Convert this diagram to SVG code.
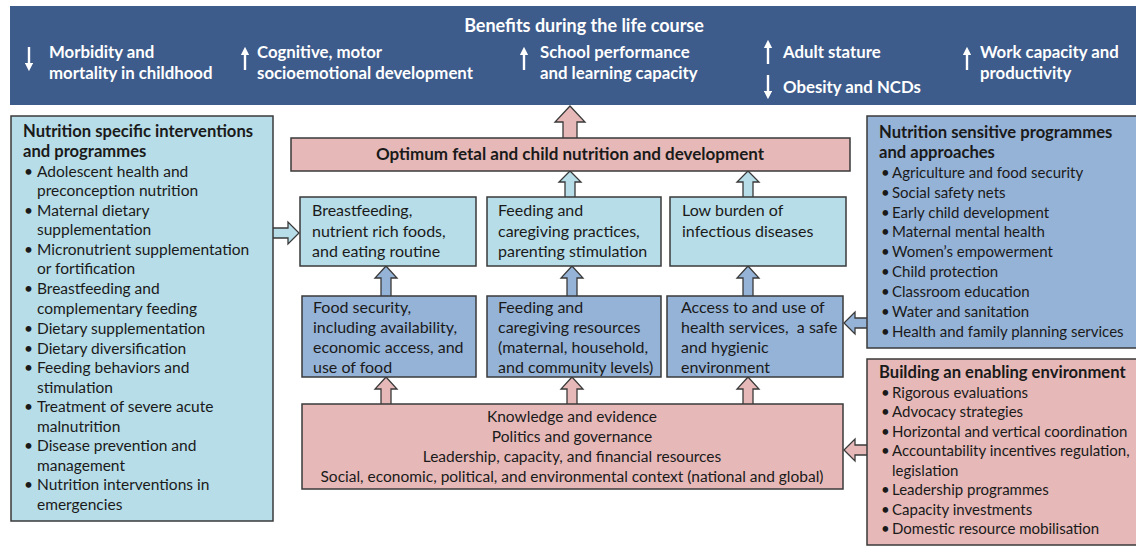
<svg xmlns="http://www.w3.org/2000/svg" width="1136" height="546" viewBox="0 0 1136 546">
<defs>
<style>
text{font-family:Lato,"Open Sans","Liberation Sans",sans-serif;fill:#1a1a1a;font-size:15.5px}
.bt{fill:#fff;font-weight:bold;font-size:16.8px}
.b{font-weight:bold;font-size:16.6px}
.r{font-size:16px}
.s{font-size:15px}
.k{font-size:15.5px}
.c{text-anchor:middle}
.box{stroke:#3a3a3a;stroke-width:1.5}
.lb{fill:#b7dde8}
.mb{fill:#95b3d7}
.pk{fill:#e6b9b8}
.ar{stroke:#3a3a3a;stroke-width:1.3;stroke-linejoin:miter}
.wa{stroke:#fff;stroke-width:2.4;fill:none}
</style>
<marker id="wh" viewBox="0 0 10 10" refX="4" refY="5" markerWidth="3.6" markerHeight="3.6" orient="auto"><path d="M0,0 L10,5 L0,10 Z" fill="#fff"/></marker>
</defs>
<rect width="1136" height="546" fill="#fff"/>

<g id="banner">
<rect x="10" y="6" width="1126" height="99" fill="#3d5b8b"/>
<text class="bt c" x="584" y="32" style="font-size:18px">Benefits during the life course</text>
<line class="wa" x1="29" y1="47" x2="29" y2="66" marker-end="url(#wh)"/>
<text class="bt" x="49" y="58">Morbidity and</text>
<text class="bt" x="49" y="79">mortality in childhood</text>
<line class="wa" x1="245" y1="70" x2="245" y2="52" marker-end="url(#wh)"/>
<text class="bt" x="257" y="58">Cognitive, motor</text>
<text class="bt" x="257" y="79">socioemotional development</text>
<line class="wa" x1="524" y1="70" x2="524" y2="52" marker-end="url(#wh)"/>
<text class="bt" x="540" y="58">School performance</text>
<text class="bt" x="540" y="79">and learning capacity</text>
<line class="wa" x1="768" y1="64" x2="768" y2="45" marker-end="url(#wh)"/>
<text class="bt" x="783" y="58">Adult stature</text>
<line class="wa" x1="768" y1="75" x2="768" y2="94" marker-end="url(#wh)"/>
<text class="bt" x="783" y="93">Obesity and NCDs</text>
<line class="wa" x1="967" y1="70" x2="967" y2="52" marker-end="url(#wh)"/>
<text class="bt" x="980" y="58">Work capacity and</text>
<text class="bt" x="980" y="79">productivity</text>
</g>

<g id="connectors">
<path class="ar pk" d="M563,138 L563,122 L555,122 L570,106 L585,122 L577,122 L577,138"/>
<path class="ar lb" d="M565,197 L565,182 L559,182 L570,171 L581,182 L575,182 L575,197"/>
<path class="ar lb" d="M743,197 L743,182 L737,182 L748,171 L759,182 L753,182 L753,197"/>
<path class="ar mb" d="M381,296 L381,278 L375,278 L386,266 L397,278 L391,278 L391,296"/>
<path class="ar mb" d="M567,296 L567,278 L561,278 L572,266 L583,278 L577,278 L577,296"/>
<path class="ar mb" d="M743,296 L743,278 L737,278 L748,266 L759,278 L753,278 L753,296"/>
<path class="ar pk" d="M381,404 L381,389 L375,389 L386,377 L397,389 L391,389 L391,404"/>
<path class="ar pk" d="M567,404 L567,389 L561,389 L572,377 L583,389 L577,389 L577,404"/>
<path class="ar pk" d="M743,404 L743,389 L737,389 L748,377 L759,389 L753,389 L753,404"/>
<path class="ar lb" d="M273,228 L288,228 L288,222 L299,233 L288,244 L288,238 L273,238"/>
<path class="ar mb" d="M867,318 L855,318 L855,312 L844,323 L855,334 L855,328 L867,328"/>
<path class="ar pk" d="M867,445 L855,445 L855,439 L844,450 L855,461 L855,455 L867,455"/>
</g>

<g id="specific">
<rect class="box lb" x="11" y="116" width="262" height="405"/>
<text class="b" x="23" y="137">Nutrition specific interventions</text>
<text class="b" x="23" y="157">and programmes</text>
<text x="24" y="177">•</text><text x="37" y="177">Adolescent health and</text>
<text x="37" y="196">preconception nutrition</text>
<text x="24" y="216">•</text><text x="37" y="216">Maternal dietary</text>
<text x="37" y="235">supplementation</text>
<text x="24" y="255">•</text><text x="37" y="255">Micronutrient supplementation</text>
<text x="37" y="274">or fortification</text>
<text x="24" y="294">•</text><text x="37" y="294">Breastfeeding and</text>
<text x="37" y="314">complementary feeding</text>
<text x="24" y="334">•</text><text x="37" y="334">Dietary supplementation</text>
<text x="24" y="354">•</text><text x="37" y="354">Dietary diversification</text>
<text x="24" y="373">•</text><text x="37" y="373">Feeding behaviors and</text>
<text x="37" y="393">stimulation</text>
<text x="24" y="412">•</text><text x="37" y="412">Treatment of severe acute</text>
<text x="37" y="432">malnutrition</text>
<text x="24" y="451">•</text><text x="37" y="451">Disease prevention and</text>
<text x="37" y="471">management</text>
<text x="24" y="490">•</text><text x="37" y="490">Nutrition interventions in</text>
<text x="37" y="510">emergencies</text>
</g>

<g id="optimum">
<rect class="box pk" x="291" y="138" width="559" height="33"/>
<text class="b c" x="570" y="160" style="font-size:17px">Optimum fetal and child nutrition and development</text>
</g>

<g id="breastfeeding">
<rect class="box lb" x="300" y="197" width="176" height="69"/>
<text class="r" x="312" y="216">Breastfeeding,</text>
<text class="r" x="312" y="237">nutrient rich foods,</text>
<text class="r" x="312" y="257">and eating routine</text>
</g>
<g id="feeding-practices">
<rect class="box lb" x="487" y="197" width="174" height="69"/>
<text class="r" x="498" y="216">Feeding and</text>
<text class="r" x="498" y="237">caregiving practices,</text>
<text class="r" x="498" y="257">parenting stimulation</text>
</g>
<g id="low-burden">
<rect class="box lb" x="670" y="197" width="176" height="69"/>
<text class="r" x="682" y="216">Low burden of</text>
<text class="r" x="682" y="237">infectious diseases</text>
</g>

<g id="food-security">
<rect class="box mb" x="302" y="296" width="174" height="81"/>
<text class="r" x="313" y="313">Food security,</text>
<text class="r" x="313" y="333">including availability,</text>
<text class="r" x="313" y="353">economic access, and</text>
<text class="r" x="313" y="373">use of food</text>
</g>
<g id="feeding-resources">
<rect class="box mb" x="487" y="296" width="174" height="81"/>
<text class="r" x="498" y="313">Feeding and</text>
<text class="r" x="498" y="333">caregiving resources</text>
<text class="r" x="498" y="353">(maternal, household,</text>
<text class="r" x="498" y="373">and community levels)</text>
</g>
<g id="health-access">
<rect class="box mb" x="667" y="296" width="176" height="81"/>
<text class="r" x="681" y="313">Access to and use of</text>
<text class="r" x="681" y="333" xml:space="preserve">health services,  a safe</text>
<text class="r" x="681" y="353">and hygienic</text>
<text class="r" x="681" y="373">environment</text>
</g>

<g id="context">
<rect class="box pk" x="302" y="404" width="541" height="85"/>
<text class="c k" x="572" y="422">Knowledge and evidence</text>
<text class="c k" x="572" y="442">Politics and governance</text>
<text class="c k" x="572" y="462">Leadership, capacity, and financial resources</text>
<text class="c k" x="572" y="482">Social, economic, political, and environmental context (national and global)</text>
</g>

<g id="sensitive">
<rect class="box mb" x="867" y="116" width="275" height="232"/>
<text class="b" x="879" y="138">Nutrition sensitive programmes</text>
<text class="b" x="879" y="158">and approaches</text>
<text class="s" x="881" y="178">•</text><text class="s" x="892" y="178">Agriculture and food security</text>
<text class="s" x="881" y="198">•</text><text class="s" x="892" y="198">Social safety nets</text>
<text class="s" x="881" y="218">•</text><text class="s" x="892" y="218">Early child development</text>
<text class="s" x="881" y="237">•</text><text class="s" x="892" y="237">Maternal mental health</text>
<text class="s" x="881" y="257">•</text><text class="s" x="892" y="257">Women’s empowerment</text>
<text class="s" x="881" y="277">•</text><text class="s" x="892" y="277">Child protection</text>
<text class="s" x="881" y="297">•</text><text class="s" x="892" y="297">Classroom education</text>
<text class="s" x="881" y="317">•</text><text class="s" x="892" y="317">Water and sanitation</text>
<text class="s" x="881" y="337">•</text><text class="s" x="892" y="337">Health and family planning services</text>
</g>

<g id="enabling">
<rect class="box pk" x="867" y="359" width="275" height="186"/>
<text class="b" x="879" y="378">Building an enabling environment</text>
<text class="s" x="881" y="398">•</text><text class="s" x="892" y="398">Rigorous evaluations</text>
<text class="s" x="881" y="417">•</text><text class="s" x="892" y="417">Advocacy strategies</text>
<text class="s" x="881" y="437">•</text><text class="s" x="892" y="437">Horizontal and vertical coordination</text>
<text class="s" x="881" y="456">•</text><text class="s" x="892" y="456">Accountability incentives regulation,</text>
<text class="s" x="892" y="476">legislation</text>
<text class="s" x="881" y="495">•</text><text class="s" x="892" y="495">Leadership programmes</text>
<text class="s" x="881" y="515">•</text><text class="s" x="892" y="515">Capacity investments</text>
<text class="s" x="881" y="534">•</text><text class="s" x="892" y="534">Domestic resource mobilisation</text>
</g>
</svg>
